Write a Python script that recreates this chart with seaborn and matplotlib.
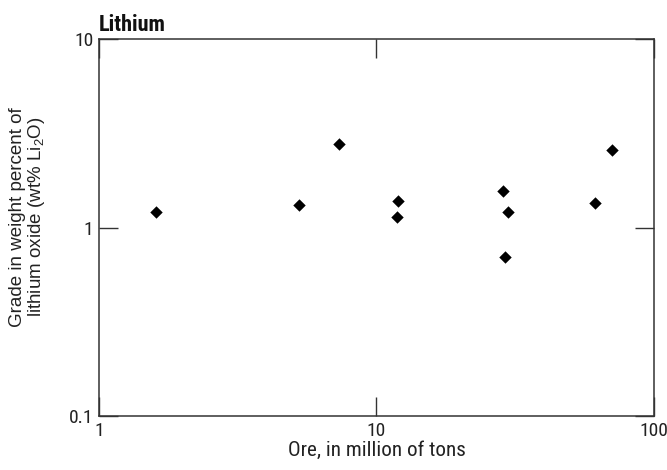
import matplotlib
matplotlib.use("Agg")
import matplotlib.pyplot as plt
import seaborn as sns
import pandas as pd
from matplotlib.ticker import FixedLocator, FixedFormatter, NullLocator

ore_mt = [1.60, 5.25, 7.30, 12.0, 11.85, 28.6, 29.8, 29.0, 61.1, 70.7]
grade_li2o = [1.21, 1.32, 2.77, 1.39, 1.13, 1.57, 1.21, 0.70, 1.35, 2.59]
x_ticks = [1, 10, 100]
x_tick_labels = ["1", "10", "100"]
y_ticks = [0.1, 1, 10]
y_tick_labels = ["0.1", "1", "10"]

sns.set_theme(style="white")
COND = ['Roboto Condensed', 'DejaVu Sans']
plt.rcParams['font.family'] = COND
plt.rcParams['mathtext.fontset'] = 'custom'
plt.rcParams['mathtext.rm'] = 'Liberation Sans'

df = pd.DataFrame({"ore": ore_mt, "grade": grade_li2o})

fig = plt.figure(figsize=(6.67, 4.70), dpi=100)
ax = fig.add_axes([0.1484, 0.1149, 0.9805 - 0.1484, 0.917 - 0.1149])

sns.scatterplot(data=df, x="ore", y="grade", marker="D", s=40, color="black",
                edgecolor="black", linewidth=0, ax=ax, legend=False)

ax.set_xscale("log")
ax.set_yscale("log")
ax.set_xlim(1, 100)
ax.set_ylim(0.1, 10)
ax.xaxis.set_major_locator(FixedLocator(x_ticks))
ax.xaxis.set_major_formatter(FixedFormatter(x_tick_labels))
ax.yaxis.set_major_locator(FixedLocator(y_ticks))
ax.yaxis.set_major_formatter(FixedFormatter(y_tick_labels))
ax.xaxis.set_minor_locator(NullLocator())
ax.yaxis.set_minor_locator(NullLocator())

spine_color = "#333333"
for sp in ax.spines.values():
    sp.set_visible(True)
    sp.set_color(spine_color)
    sp.set_linewidth(1.1)

ax.tick_params(axis="both", which="major", direction="in", length=13.5, width=1.0,
               color=spine_color, top=True, right=True, bottom=True, left=True,
               labelsize=14, labelcolor="#222222", pad=4)

ax.set_xlabel("Ore, in million of tons", fontsize=15.2, color="#222222", labelpad=1)
ax.set_ylabel("Grade in weight percent of\nlithium oxide (wt% Li$\\mathregular{_2}$O)",
              fontsize=13.5, color="#222222", family=['Liberation Sans', 'DejaVu Sans'],
              linespacing=1.0)
ax.yaxis.set_label_coords(-0.093, 0.528)
ax.set_title("Lithium", loc="left", fontsize=16, fontweight="bold", color="#111111", pad=6)

fig.savefig("out.png", dpi=100)
